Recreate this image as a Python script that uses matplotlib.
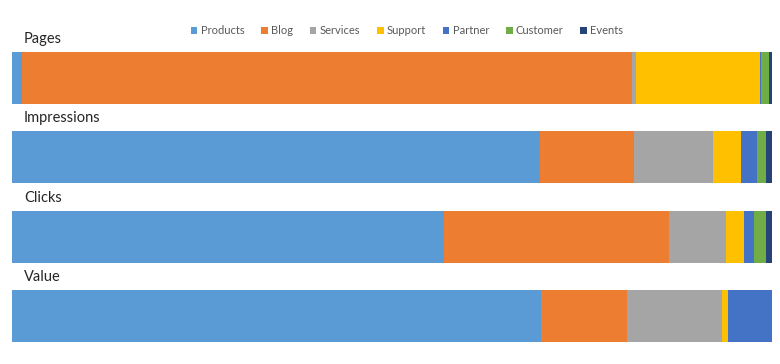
import matplotlib

matplotlib.use("Agg")
import matplotlib.pyplot as plt
import numpy as np

plt.rcParams["font.family"] = ["Lato", "DejaVu Sans"]

metrics = ["Pages", "Impressions", "Clicks", "Value"]
series = ["Products", "Blog", "Services", "Support", "Partner", "Customer", "Events"]
colors = ["#5B9BD5", "#ED7D31", "#A5A5A5", "#FFC000", "#4472C4", "#70AD47", "#264478"]

# share (%) of each series per metric
products = [1.3, 69.4, 56.8, 69.6]
blog = [80.2, 12.4, 29.6, 11.3]
services = [0.5, 10.4, 7.5, 12.4]
support = [16.4, 3.7, 2.4, 0.9]
partner = [0.1, 2.1, 1.3, 5.8]
customer = [1.0, 1.2, 1.6, 0.0]
events = [0.5, 0.8, 0.8, 0.0]

values = [products, blog, services, support, partner, customer, events]


def main() -> None:
    W, H = 780, 364
    fig = plt.figure(figsize=(W / 100, H / 100), dpi=100)
    ax = fig.add_axes([12 / W, 0, (772.5 - 12) / W, 1])

    y = np.arange(len(metrics))
    left = np.zeros(len(metrics))
    for name, vals, c in zip(series, values, colors):
        vals = np.array(vals)
        ax.barh(y, vals, left=left, height=0.655, color=c, label=name, linewidth=0)
        left += vals

    unit = 79.33
    ax.set_xlim(0, left.max())
    ax.set_ylim((H - 78) / unit, -78 / unit)
    ax.set_axis_off()

    for i, m in enumerate(metrics):
        ax.text(1.55, i - 0.49, m, fontsize=10.5, color="#262626", va="center", ha="left")

    fig.legend(loc="center", bbox_to_anchor=(407 / W, 1 - 31 / H), ncol=7,
               frameon=False, fontsize=8, handlelength=0.6, handleheight=0.6,
               handletextpad=0.3, columnspacing=1.5, labelcolor="#595959")

    fig.savefig("out.png", dpi=100)


if __name__ == "__main__":
    main()
